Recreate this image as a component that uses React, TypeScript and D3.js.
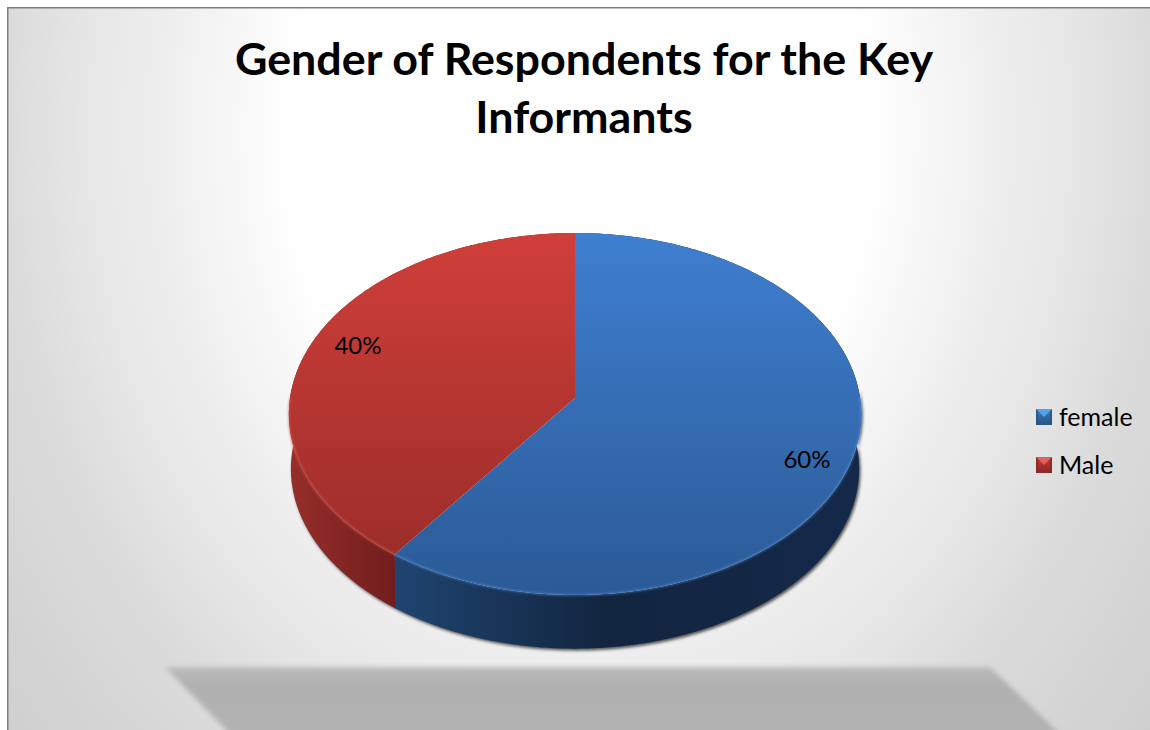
import React from 'react';
import * as d3 from 'd3';

const categories = ['female', 'Male'];
const shares = [60, 40];
const titleLines = ['Gender of Respondents for the Key', 'Informants'];

const topColors = [
  ['#3f7fd0', '#2b5a96'],
  ['#d03f3a', '#962b28'],
];
const wallColors = [
  ['#1f4470', '#12253f', '#14294a'],
  ['#962e2a', '#701d1c', '#701d1c'],
];
const rimColors = ['#5b94dc', '#dd5f58'];
const swatchColors = [
  ['#2a5688', '#3a76b8', '#55a2e8'],
  ['#8e2a28', '#bc3a38', '#e2605c'],
];

const width = 1150;
const height = 730;

// projection of the pie disc, tilted with some perspective
const cx = 575;
const cy = 398;
const ax = 285;
const ay = 179.6;
const persp = 0.0884;
const depth = 55;
const lowerScale = 0.993;

const project = (a: number, lower = false): [number, number] => {
  const u = Math.sin(a);
  const v = -Math.cos(a);
  const w = 1 - persp * v;
  const s = lower ? lowerScale : 1;
  return [cx + (s * ax * u) / w, cy + (lower ? depth : 0) + (s * ay * v) / w];
};

const line = d3.line();
const sample = (a0: number, a1: number) => {
  const n = Math.max(2, Math.ceil(Math.abs(a1 - a0) / 0.01));
  return d3.range(n + 1).map(i => a0 + ((a1 - a0) * i) / n);
};

const slices = d3.pie<number>().sort(null)(shares);

const facePath = (a0: number, a1: number) =>
  line([[cx, cy], ...sample(a0, a1).map(a => project(a))]) + 'Z';
const wallPath = (a0: number, a1: number) =>
  line([
    ...sample(a0, a1).map(a => project(a)),
    ...sample(a1, a0).map(a => project(a, true)),
  ]) + 'Z';
const rimPath = (a0: number, a1: number) =>
  line(sample(a0, a1).map(a => project(a))) as string;

const font = 'Lato, "Open Sans", sans-serif';
const labelAt = [
  [807, 460],
  [358, 346],
];
const legendX = 1036;
const legendY = d3.scalePoint<string>().domain(categories).range([417, 465]);
const swatch = 16;

export default function App() {
  const rightExtreme = Math.PI / 2;
  const leftExtreme = (3 * Math.PI) / 2;
  return (
    <svg
      width={width}
      height={height}
      viewBox={`0 0 ${width} ${height}`}
      style={{ position: 'absolute', left: 0, top: 0 }}
    >
      <defs>
        <radialGradient
          id="bg"
          gradientUnits="userSpaceOnUse"
          cx={580}
          cy={130}
          r={750}
          gradientTransform="translate(580 130) scale(1 1.25) translate(-580 -130)"
        >
          <stop offset="0.387" stopColor="#ffffff" />
          <stop offset="0.56" stopColor="#eeeeee" />
          <stop offset="0.667" stopColor="#e6e6e6" />
          <stop offset="0.76" stopColor="#dcdcdc" />
          <stop offset="1" stopColor="#cfcfcf" />
        </radialGradient>
        <linearGradient id="ground" x1="0" x2="0" y1="0" y2="1">
          <stop offset="0" stopColor="#bcbcbc" />
          <stop offset="0.25" stopColor="#b0b0b0" />
          <stop offset="1" stopColor="#b2b2b2" />
        </linearGradient>
        <filter id="blur3" x="-10%" y="-30%" width="120%" height="160%">
          <feGaussianBlur stdDeviation="2.5" />
        </filter>
        <filter id="blur1" x="-5%" y="-5%" width="110%" height="110%">
          <feGaussianBlur stdDeviation="1.5" />
        </filter>
        <filter id="blurRim" x="-5%" y="-5%" width="110%" height="110%">
          <feGaussianBlur stdDeviation="0.8" />
        </filter>
        {topColors.map((c, i) => (
          <linearGradient
            key={i}
            id={`top${i}`}
            gradientUnits="userSpaceOnUse"
            x1={0}
            x2={0}
            y1={cy - 165}
            y2={cy + 197}
          >
            <stop offset="0" stopColor={c[0]} />
            <stop offset="1" stopColor={c[1]} />
          </linearGradient>
        ))}
        <linearGradient id="wall0" gradientUnits="userSpaceOnUse" x1={398} x2={860} y1={0} y2={0}>
          <stop offset="0" stopColor={wallColors[0][0]} />
          <stop offset="0.45" stopColor={wallColors[0][1]} />
          <stop offset="1" stopColor={wallColors[0][2]} />
        </linearGradient>
        <linearGradient id="wall1" gradientUnits="userSpaceOnUse" x1={290} x2={398} y1={0} y2={0}>
          <stop offset="0" stopColor={wallColors[1][0]} />
          <stop offset="1" stopColor={wallColors[1][1]} />
        </linearGradient>
        {swatchColors.map((c, i) => (
          <linearGradient key={i} id={`swatch${i}`} x1="0" x2="0" y1="0" y2="1">
            <stop offset="0" stopColor={c[1]} />
            <stop offset="1" stopColor={c[0]} />
          </linearGradient>
        ))}
      </defs>

      <rect x={0} y={0} width={width} height={height} fill="#ffffff" />
      <rect x={8} y={8} width={width - 8} height={height - 8} fill="url(#bg)" />
      <path d="M7.75 730V7.75H1150" fill="none" stroke="#808080" strokeWidth={1.5} />

      <path d="M165 667H990L1062 736H232Z" fill="url(#ground)" filter="url(#blur3)" />

      <text textAnchor="middle" fontFamily={font} fontWeight={700} fontSize={44.8} fill="#000">
        {titleLines.map((t, i) => (
          <tspan key={t} x={584} y={75 + i * 58}>
            {t}
          </tspan>
        ))}
      </text>

      {/* soft shadow under the pie */}
      <path
        d={wallPath(rightExtreme - 0.05, leftExtreme + 0.05)}
        transform="translate(1.5,2)"
        fill="#555"
        filter="url(#blur1)"
      />

      {slices.map((s, i) => (
        <path key={`w${i}`} d={wallPath(s.startAngle, s.endAngle)} fill={`url(#wall${i})`} />
      ))}
      {slices.map((s, i) => (
        <path key={`f${i}`} d={facePath(s.startAngle, s.endAngle)} fill={`url(#top${i})`} />
      ))}
      {slices.map((s, i) => (
        <path
          key={`r${i}`}
          d={rimPath(Math.max(s.startAngle, rightExtreme), Math.min(s.endAngle, leftExtreme))}
          fill="none"
          stroke={rimColors[i]}
          strokeOpacity={0.65}
          strokeWidth={1.5}
          filter="url(#blurRim)"
        />
      ))}

      {slices.map((s, i) => (
        <text
          key={`l${i}`}
          x={labelAt[i][0]}
          y={labelAt[i][1]}
          dy="0.35em"
          textAnchor="middle"
          fontFamily={font}
          fontSize={24}
          fill="#000"
        >
          {`${shares[i]}%`}
        </text>
      ))}

      {categories.map((c, i) => {
        const y = legendY(c) as number;
        const x0 = legendX;
        const x1 = legendX + swatch;
        const y0 = y - swatch / 2;
        const y1 = y + swatch / 2;
        return (
          <g key={c}>
            <rect x={x0} y={y0} width={swatch} height={swatch} fill={swatchColors[i][0]} />
            <rect
              x={x0 + 2}
              y={y0 + 2}
              width={swatch - 4}
              height={swatch - 4}
              fill={`url(#swatch${i})`}
            />
            <path
              d={`M${x0} ${y0}H${x1}L${x0 + swatch / 2} ${y0 + swatch / 2}Z`}
              fill={swatchColors[i][2]}
            />
            <text x={x1 + 7} y={y} dy="0.35em" fontFamily={font} fontSize={25} fill="#000">
              {c}
            </text>
          </g>
        );
      })}
    </svg>
  );
}
